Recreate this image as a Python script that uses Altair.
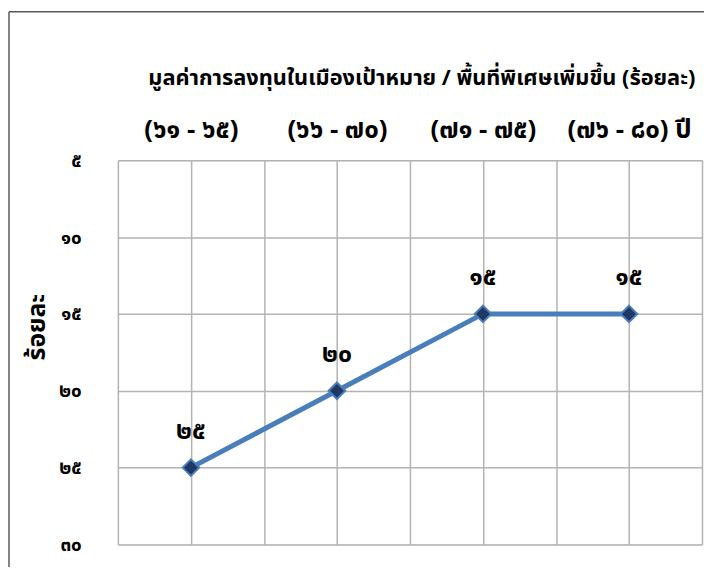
import altair as alt
import pandas as pd

periods = ["(๖๑ - ๖๕)", "(๖๖ - ๗๐)", "(๗๑ - ๗๕)", "(๗๖ - ๘๐) ปี"]
values = [25, 20, 15, 15]
value_labels = ["๒๕", "๒๐", "๑๕", "๑๕"]
y_ticks = [5, 10, 15, 20, 25, 30]
y_tick_labels = ["๕", "๑๐", "๑๕", "๒๐", "๒๕", "๓๐"]
title_text = "มูลค่าการลงทุนในเมืองเป้าหมาย / พื้นที่พิเศษเพิ่มขึ้น (ร้อยละ)"
y_title = "ร้อยละ"

FONT = "Noto Sans Thai, Tahoma, Loma, Garuda, Noto Sans, sans-serif"

df = pd.DataFrame({
    "idx": list(range(1, len(periods) + 1)),
    "period": periods,
    "value": values,
    "label": value_labels,
})

x_grid = [0.5 + 0.5 * i for i in range(2 * len(periods) + 1)]
x_expr = " : ".join(
    f"datum.value == {i + 1} ? '{p}'" for i, p in enumerate(periods)
) + " : ''"
y_expr = " : ".join(
    f"datum.value == {v} ? '{l}'" for v, l in zip(y_ticks, y_tick_labels)
) + " : ''"

x = alt.X(
    "idx:Q",
    scale=alt.Scale(domain=[0.5, len(periods) + 0.5], nice=False, zero=False),
    axis=alt.Axis(
        orient="top", values=x_grid, labelExpr=x_expr, title=None,
        ticks=False, domain=False, grid=True, gridColor="#b3b3b3", gridWidth=1.5,
        labelFont=FONT, labelFontSize=26, labelFontWeight="bold", labelColor="#000000",
        labelPadding=18, labelOverlap=False, labelFlush=False,
    ),
)
y = alt.Y(
    "value:Q",
    scale=alt.Scale(domain=[5, 30], reverse=True, nice=False, zero=False),
    axis=alt.Axis(
        values=y_ticks, labelExpr=y_expr, title=y_title,
        ticks=False, domain=False, grid=True, gridColor="#b3b3b3", gridWidth=1.5,
        labelFont=FONT, labelFontSize=19, labelFontWeight="bold", labelColor="#000000",
        labelPadding=37,
        titleFont=FONT, titleFontSize=25, titleFontWeight="bold", titleColor="#000000",
        titleX=-82, titleY=168, titleAngle=-90, titleBaseline="middle", titleAlign="center",
    ),
)

base = alt.Chart(df)
line = base.mark_line(color="#4a7ebb", strokeWidth=5).encode(x=x, y=y)
pts = base.mark_point(
    shape="diamond", filled=True, fill="#1f3864", stroke="#4a7ebb",
    strokeWidth=2, size=280, opacity=1,
).encode(x="idx:Q", y="value:Q")
txt = base.mark_text(
    dy=-37, font=FONT, fontSize=25, fontWeight="bold", color="#000000",
).encode(x="idx:Q", y="value:Q", text="label:N")

frame_df = pd.DataFrame({"k": [0]})
title_mark = alt.Chart(frame_df).transform_calculate(t=f"'{title_text}'").mark_text(
    font=FONT, fontSize=22, fontWeight="bold", color="#000000", baseline="middle",
).encode(x=alt.value(307), y=alt.value(-83), text="t:N")
frame_left = alt.Chart(frame_df).mark_rule(color="#595959", strokeWidth=1.5).encode(
    x=alt.value(-110), y=alt.value(-150), y2=alt.value(420)
)
frame_top = alt.Chart(frame_df).mark_rule(color="#595959", strokeWidth=1.5).encode(
    x=alt.value(-110), x2=alt.value(620), y=alt.value(-150)
)

chart = alt.layer(line, pts, txt, title_mark, frame_left, frame_top).properties(
    width=590, height=388,
    autosize=alt.AutoSizeParams(type="none"),
    padding={"left": 111, "top": 151, "right": 2, "bottom": 20},
).configure_view(stroke="#a6a6a6", strokeWidth=1.5).configure(background="white")

chart.save("out.html", embed_options={"renderer": "svg", "actions": False})
